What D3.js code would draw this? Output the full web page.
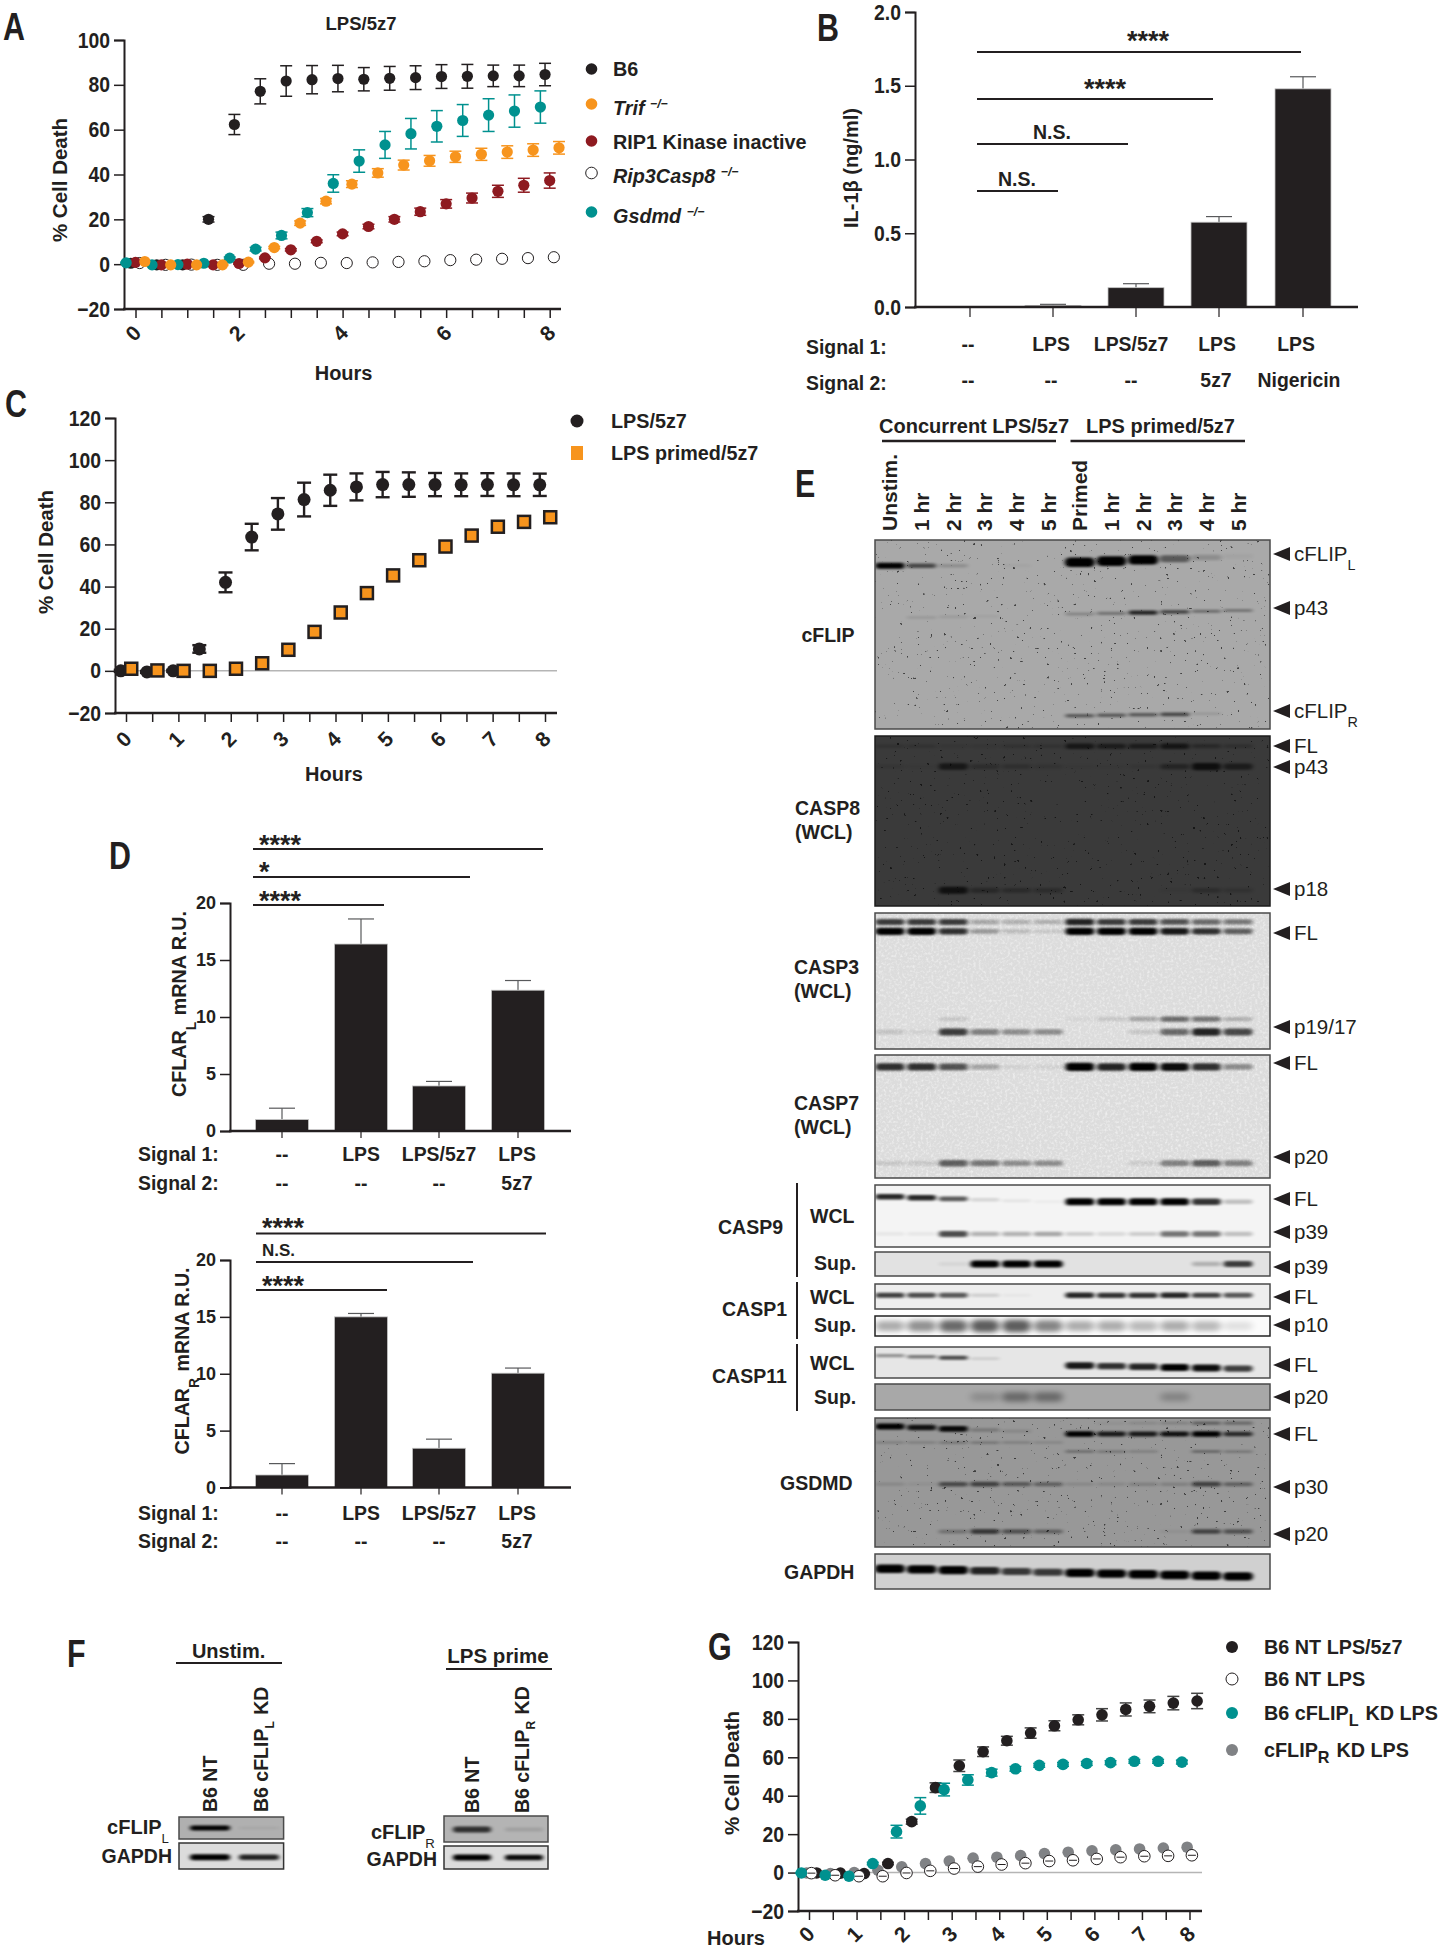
<!DOCTYPE html>
<html>
<head>
<meta charset="utf-8">
<script src="https://cdn.jsdelivr.net/npm/d3@7"></script>
<style>
body { margin: 0; background: #fff; }
svg text { font-family: "Liberation Sans", Arial, sans-serif; fill: #231f20; }
</style>
</head>
<body>
<div id="fig"></div>
<script>
// panel A, % cell death at half hour steps
let hours = [0, .5, 1, 1.5, 2, 2.5, 3, 3.5, 4, 4.5, 5, 5.5, 6, 6.5, 7, 7.5, 8];
let aB6 = [.4, -.3, -.3, 20, 62.3, 77.1, 81.7, 82.3, 82.8, 82.5, 82.9, 83.2, 83.7, 83.8, 84, 84, 84.6];
let aB6Err = [.5, .5, .5, 1.2, 4.5, 5.6, 6.8, 6.3, 5.9, 5.2, 5.3, 5.3, 5.3, 5.3, 4.8, 4.8, 5];
let aTrif = [1.2, -.3, -.3, -.3, .9, 7.4, 18.3, 28.1, 35.7, 40.7, 44.2, 46.1, 47.9, 49, 50, 50.9, 51.9];
let aTrifErr = [.3, .3, .3, .3, .3, .5, 1, 1.2, 1.5, 1.9, 2.2, 2.4, 2.5, 2.7, 2.8, 2.8, 2.8];
let aRip1 = [.8, -.3, 0, -.3, .3, 2.8, 6.4, 10.2, 13.5, 16.8, 20, 23.4, 26.9, 29.5, 32.5, 35.2, 37.3];
let aRip1Err = [.3, .3, .3, .3, .3, .4, .5, .6, .8, 1, 1.2, 1.6, 1.9, 2.2, 2.7, 3.1, 3.4];
let aRip3 = [.5, -.3, -.2, -.3, -.3, .2, .2, .6, .5, .8, 1, 1.3, 1.8, 2, 2.4, 2.7, 3.1];
let aGsdmd = [.6, -.3, -.2, .4, 2.7, 6.7, 12.8, 23, 36, 46, 53.2, 58.2, 61.5, 64.1, 66.5, 68.3, 70.1];
let aGsdmdErr = [.3, .3, .3, .4, .5, .8, 1.5, 1.8, 3.9, 5, 6, 6.8, 7, 7.1, 7.3, 7.2, 7.2];

// panel B
let bValues = [0, .011, .131, .575, 1.479];
let bErrors = [0, .007, .027, .038, .082];
let bSignal1 = ["--", "LPS", "LPS/5z7", "LPS", "LPS"];
let bSignal2 = ["--", "--", "--", "5z7", "Nigericin"];

// panel C
let cLps = [0, -.5, 0, 10.4, 42, 63.5, 74.5, 81.3, 85.7, 87.3, 88.4, 88.4, 88.4, 88.3, 88.4, 88.3, 88.3];
let cLpsErr = [.5, .5, .5, 1.8, 4.7, 6.3, 7.5, 8, 7.4, 6.4, 6, 5.8, 5.5, 5.4, 5.4, 5.4, 5.3];
let cPrimed = [1, .2, 0, 0, 1, 3.6, 10, 18.5, 27.7, 36.9, 45.3, 52.5, 59, 64.2, 68.4, 70.7, 72.9];

// panel D
let dSignal1 = ["--", "LPS", "LPS/5z7", "LPS"];
let dSignal2 = ["--", "--", "--", "5z7"];
let dLong = [1, 16.4, 3.95, 12.35];
let dLongErr = [1, 2.2, .4, .85];
let dShort = [1.1, 15, 3.45, 10.05];
let dShortErr = [1, .3, .8, .45];

// panel E, band strength per lane
let laneNames = ["Unstim.", "1 hr", "2 hr", "3 hr", "4 hr", "5 hr", "Primed", "1 hr", "2 hr", "3 hr", "4 hr", "5 hr"];
let flipLongA = [.95, .55, .15, 0, .03, 0];
let flipLongB = [1, 1, .95, .45, .15, .03];
let flipP43 = [0, .1, .08, .04, 0, 0, .2, .3, .75, .55, .35, .3];
let flipShort = [.45, .45, .45, .55, .1, 0];
let c8Full = [.2, .2, .1, .1, .2, .2, .8, .7, .7, .85, .4, .25];
let c8P43 = [.1, .05, .8, .3, .25, .15, .05, .05, .1, .5, 1, .7];
let c8P18 = [0, 0, .95, .4, .35, .3, 0, 0, 0, .05, .3, .2];
let c3Upper = [.7, .7, .7, .25, .2, .2, .8, .7, .7, .6, .5, .45];
let c3Lower = [1, 1, .75, .3, .15, .1, 1, 1, 1, .85, .75, .55];
let c3P19 = [0, 0, .1, 0, 0, 0, .03, .1, .25, .5, .45, .2];
let c3P17 = [.12, .05, .7, .4, .35, .35, 0, 0, .1, .5, .8, .65];
let c7Full = [.75, .75, .6, .25, .05, .05, .95, .8, .95, .9, .75, .35];
let c7P20 = [.1, .1, .55, .45, .35, .35, 0, 0, .08, .4, .55, .4];
let c9FullA = [.8, .8, .6, .12, .06, .03];
let c9FullB = [1, 1, 1, 1, .75, .2];
let c9P39 = [.05, .05, .65, .25, .25, .3, .15, .1, .15, .5, .5, .2];
let c9Sup = [0, 0, .05, 1, 1, 1, 0, 0, 0, 0, .2, .7];
let c1Full = [.7, .65, .6, .12, .03, 0, .8, .75, .75, .8, .7, .6];
let c1Sup = [.3, .4, .55, .6, .6, .45, .3, .3, .25, .3, .25, .1];
let c11FullA = [.35, .45, .65, .1, 0, 0];
let c11FullB = [.85, .75, .8, .95, .9, .7];
let c11Sup = [0, 0, 0, .15, .35, .35, 0, 0, 0, .2, 0, 0];
let gdFullA = [1, .85, .9, .2, .1, 0];
let gdFullB = [.95, .8, .8, .85, .95, .7];
let gdTop = [0, .05, .1, .15, .35, .3];
let gdMidA = [.2, .2, .25, .25, .2, .15];
let gdMidB = [.3, .25, .2, 0, .35, .25];
let gdP30 = [.1, .05, .5, .55, .4, .35, .1, .1, .15, .15, .55, .35];
let gdP20 = [0, 0, .25, .6, .45, .35, 0, 0, 0, .05, .55, .45];
let gapdhE = [1, 1, 1, .8, .7, .7, 1, 1, 1, 1, 1, 1];

// panel F
let fFlipL = [1, .05];
let fGapdhL = [1, .8];
let fFlipR = [.7, .1];
let fGapdhR = [.95, .9];

// panel G
let gNtLps5z7 = [-.2, -.3, -.5, 4.7, 26.5, 44.2, 55.6, 62.9, 68.6, 72.6, 76.4, 79.5, 82.1, 84.9, 86.5, 88.2, 89.3];
let gNtLps5z7Err = [.5, .5, .5, .6, 1.3, 2.5, 3, 2.5, 2.3, 2.7, 2.6, 2.6, 3.2, 3.4, 3.3, 3.5, 4];
let gNtLps = [-.3, -1.4, -1.9, -1.9, -.2, .9, 2.1, 3.1, 4.2, 4.9, 6, 6.4, 7.1, 8, 8.5, 8.7, 9];
let gNtLpsErr = [.7, .7, .7, .9, .7, .6, .6, .6, .6, .6, .7, .7, .7, .7, .7, .7, .7];
let gFlipL = [-.2, -1.4, -1.9, 4.7, 21.3, 34.7, 43.2, 48.2, 52, 54, 55.8, 56.3, 56.8, 57.2, 57.9, 57.9, 57.5];
let gFlipLErr = [.3, .3, .3, .6, 3.3, 4.3, 3.3, 2.7, 1.8, 1.2, 1, 1, 1, 1, 1, 1, 1];
let gFlipR = [-.2, -.5, 0, 1.2, 3, 4.7, 6, 7.5, 8, 8.8, 9.9, 10.6, 11.3, 11.8, 12.3, 12.8, 13.2];

const INK = "#231f20", ORANGE = "#f7941d", RED = "#8e1a20", TEAL = "#00918f", GREY = "#808285";

let svg = d3.select("#fig").append("svg").attr("width", 1441).attr("height", 1950);

let defs = svg.append("defs");
defs.append("filter").attr("id", "soft").attr("x", "-30%").attr("y", "-150%").attr("width", "160%").attr("height", "400%")
	.append("feGaussianBlur").attr("stdDeviation", "2 1.2");
defs.append("filter").attr("id", "smear").attr("x", "-30%").attr("y", "-100%").attr("width", "160%").attr("height", "300%")
	.append("feGaussianBlur").attr("stdDeviation", "3.5 2.5");
let grain = defs.append("filter").attr("id", "grain").attr("x", 0).attr("y", 0).attr("width", "100%").attr("height", "100%");
grain.append("feTurbulence").attr("type", "fractalNoise").attr("baseFrequency", ".38").attr("numOctaves", 2).attr("seed", 4);
grain.append("feColorMatrix").attr("values", "0 0 0 0 1  0 0 0 0 1  0 0 0 0 1  2.2 0 0 0 -1");
let specks = defs.append("filter").attr("id", "specks").attr("x", 0).attr("y", 0).attr("width", "100%").attr("height", "100%");
specks.append("feTurbulence").attr("type", "fractalNoise").attr("baseFrequency", ".3").attr("numOctaves", 2).attr("seed", 11);
specks.append("feColorMatrix").attr("values", "0 0 0 0 0  0 0 0 0 0  0 0 0 0 0  20 0 0 0 -15");

// text helper, y is the vertical centre of the capitals
function txt(g, x, y, parts, o) {
	o = o || {};
	let size = o.size || 19.5;
	let t = g.append("text")
		.attr("font-size", size)
		.attr("font-weight", o.normal ? 400 : 700)
		.attr("font-style", o.italic ? "italic" : null)
		.attr("text-anchor", o.anchor || "start");
	if (o.len) t.attr("textLength", o.len).attr("lengthAdjust", "spacingAndGlyphs");
	let off = size * .36;
	if (o.rotate) {
		t.attr("transform", "translate(" + (x + off) + "," + y + ") rotate(" + o.rotate + ")");
	} else if (o.squeeze) {
		t.attr("transform", "translate(" + x + "," + (y + off) + ") scale(" + o.squeeze + ",1)");
	} else {
		t.attr("x", x).attr("y", y + off);
	}
	let small = size * (o.subScale || .62);
	[].concat(parts).forEach(function(p) {
		if (typeof p === "string") {
			t.append("tspan").text(p);
		} else {
			// p = {sub: "L"} or {sup: "-/-"}
			let low = p.sub !== undefined;
			let shift = (low ? (o.subDrop || .3) : -.35) * size;
			t.append("tspan").attr("dy", shift).attr("font-size", small).attr("font-weight", p.normal ? 400 : null).text(low ? p.sub : p.sup);
			t.append("tspan").attr("dy", -shift).attr("font-size", small).text("\u200a");
		}
	});
	return t;
}

function stars(g, x, y, s, anchor) {
	g.append("text").attr("x", x).attr("y", y + 15).attr("font-size", 27).attr("font-weight", 700)
		.attr("text-anchor", anchor || "middle").text(s);
}

function panelLetter(x, y, s) {
	txt(svg, x, y, s, { size: 38, squeeze: .8 });
}

function hline(g, x0, x1, y, w) {
	g.append("line").attr("x1", x0).attr("x2", x1).attr("y1", y).attr("y2", y).attr("stroke", INK).attr("stroke-width", w || 2);
}

// tall, slightly narrow numbers in the GraphPad panels, plain ones in D
function yAxis(g, scale, ticks, xPos, fmt, size, squeeze) {
	let ax = g.append("g").attr("transform", "translate(" + xPos + ",0)")
		.call(d3.axisLeft(scale).tickValues(ticks).tickSize(10).tickPadding(4).tickFormat(fmt));
	ax.select(".domain").attr("stroke", INK).attr("stroke-width", 2);
	ax.selectAll(".tick line").attr("stroke", INK).attr("stroke-width", 1.5);
	ax.selectAll("text").attr("font-size", size).attr("font-weight", 700).style("font-family", "Liberation Sans").attr("fill", INK);
	if (squeeze) {
		ax.selectAll("text").attr("x", -14 / squeeze).attr("transform", "scale(" + squeeze + ",1)");
	}
	return ax;
}

function fmtMinus(d) { return d < 0 ? "\u2212" + Math.abs(d) : "" + d; }

// time course panels
function timeCourse(c) {
	let g = svg.append("g");
	let y = d3.scaleLinear().domain(c.yDomain).range(c.yRange);
	let x = d3.scaleLinear().domain([0, 8]).range(c.xRange);

	if (c.zeroLine) {
		g.append("line").attr("x1", c.axisX).attr("x2", c.axisEnd).attr("y1", y(0)).attr("y2", y(0))
			.attr("stroke", "#b5b5b5").attr("stroke-width", 1.5);
	}
	yAxis(g, y, c.yTicks, c.axisX, fmtMinus, 22, .88);

	let ax = g.append("g").attr("transform", "translate(0," + y(c.yDomain[0]) + ")")
		.call(d3.axisBottom(x).tickValues(hours).tickSize(9).tickPadding(0)
			.tickFormat(function(d) { return d % c.labelEvery === 0 ? d : ""; }));
	ax.select(".domain").remove();
	ax.selectAll(".tick line").attr("stroke", INK).attr("stroke-width", 1.5);
	ax.selectAll("text").attr("font-size", 21).attr("font-weight", 700).style("font-family", "Liberation Sans").attr("fill", INK)
		.attr("text-anchor", "middle").attr("y", 0).attr("dy", ".36em")
		.attr("transform", "translate(-3," + c.labelDrop + ") rotate(-45)");
	hline(g, c.axisX - 1, c.axisEnd, y(c.yDomain[0]), 2.5);

	c.series.forEach(function(s) {
		let pts = hours.map(function(h, i) { return { h: h + s.dodge, v: s.values[i], e: s.errors ? s.errors[i] : 0 }; });
		let col = s.errorColor || s.fill;
		let bars = g.append("g").attr("stroke", col).attr("stroke-width", c.errWidth || 1.5);
		pts.filter(function(d) { return d.e > 0; }).forEach(function(d) {
			bars.append("line").attr("x1", x(d.h)).attr("x2", x(d.h)).attr("y1", y(d.v - d.e)).attr("y2", y(d.v + d.e));
			[d.v - d.e, d.v + d.e].forEach(function(v) {
				bars.append("line").attr("x1", x(d.h) - c.cap).attr("x2", x(d.h) + c.cap).attr("y1", y(v)).attr("y2", y(v));
			});
		});
	});
	// error bars of open symbols sit on top of the fill, everything else under it
	c.series.forEach(function(s) {
		let pts = hours.map(function(h, i) { return { h: h + s.dodge, v: s.values[i], e: s.errors ? s.errors[i] : 0 }; });
		if (s.square) {
			g.append("g").selectAll("rect").data(pts).enter().append("rect")
				.attr("x", function(d) { return x(d.h) - 6; }).attr("y", function(d) { return y(d.v) - 6; })
				.attr("width", 12).attr("height", 12)
				.attr("fill", s.fill).attr("stroke", s.stroke).attr("stroke-width", 2.5);
		} else {
			g.append("g").selectAll("circle").data(pts).enter().append("circle")
				.attr("cx", function(d) { return x(d.h); }).attr("cy", function(d) { return y(d.v); })
				.attr("r", c.radius)
				.attr("fill", s.fill).attr("stroke", s.stroke || "none").attr("stroke-width", 1);
		}
		if (s.fill === "#fff" && s.errors) {
			let inner = g.append("g").attr("stroke", "#231f20").attr("stroke-width", 1);
			pts.forEach(function(d) {
				inner.append("line").attr("x1", x(d.h) - 4).attr("x2", x(d.h) + 4).attr("y1", y(d.v)).attr("y2", y(d.v));
			});
		}
	});

	c.legend.forEach(function(l, i) {
		let s = c.series.find(function(d) { return d.name === l.name; });
		if (s.square) {
			g.append("rect").attr("x", c.legendX - 6).attr("y", l.y - 7).attr("width", 12).attr("height", 14).attr("fill", s.fill);
		} else {
			g.append("circle").attr("cx", c.legendX).attr("cy", l.y).attr("r", c.legendR || c.radius)
				.attr("fill", s.fill).attr("stroke", s.stroke || "none").attr("stroke-width", 1);
		}
		txt(g, c.legendTextX, l.ty || l.y, l.parts, { italic: l.italic, size: 19.8, subScale: c.subScale, subDrop: c.subDrop });
	});
}

// bar panels with signal rows under them
function barPanel(c) {
	let g = svg.append("g");
	let y = d3.scaleLinear().domain(c.yDomain).range(c.yRange);
	let x = d3.scaleOrdinal().domain(d3.range(c.values.length)).range(c.centres);
	c.values.forEach(function(v, i) {
		if (c.errors[i] > 0) {
			let e = v + c.errors[i];
			g.append("line").attr("x1", x(i)).attr("x2", x(i)).attr("y1", y(v)).attr("y2", y(e)).attr("stroke", "#58595b").attr("stroke-width", 1.2);
			g.append("line").attr("x1", x(i) - 13).attr("x2", x(i) + 13).attr("y1", y(e)).attr("y2", y(e)).attr("stroke", "#58595b").attr("stroke-width", 1.2);
		}
		g.append("rect").attr("x", x(i) - c.barW / 2).attr("width", c.barW)
			.attr("y", y(v)).attr("height", y(0) - y(v)).attr("fill", INK).attr("stroke", "#c4c4c4").attr("stroke-width", .8);
	});
	yAxis(g, y, c.yTicks, c.axisX, c.fmt, c.tickSize, c.squeeze);
	hline(g, c.axisX - 1, c.axisEnd, y(0), 2.5);
	c.centres.forEach(function(cx) {
		g.append("line").attr("x1", cx).attr("x2", cx).attr("y1", y(0)).attr("y2", y(0) + c.tickLen).attr("stroke", INK).attr("stroke-width", 1.2);
	});
	txt(g, c.signalX, c.row1, "Signal 1:", { size: 19.4 });
	txt(g, c.signalX, c.row2, "Signal 2:", { size: 19.4 });
	c.signal1.forEach(function(s, i) { txt(g, c.label1[i], c.row1 - c.lift, s, { size: 19.4, anchor: "middle" }); });
	c.signal2.forEach(function(s, i) { txt(g, c.label2[i], c.row2 - c.lift, s, { size: 19.4, anchor: "middle" }); });
	return g;
}

// a western blot: background rectangle, grain, one blurred mark per band
function drawBlot(b) {
	let g = svg.append("g");
	let clip = "blot" + b.y0;
	defs.append("clipPath").attr("id", clip).append("rect").attr("x", b.x0).attr("y", b.y0).attr("width", b.x1 - b.x0).attr("height", b.y1 - b.y0);
	g.append("rect").attr("x", b.x0).attr("y", b.y0).attr("width", b.x1 - b.x0).attr("height", b.y1 - b.y0).attr("fill", b.bg);
	if (b.grain) {
		g.append("rect").attr("x", b.x0).attr("y", b.y0).attr("width", b.x1 - b.x0).attr("height", b.y1 - b.y0)
			.attr("filter", "url(#grain)").attr("opacity", b.grain);
	}
	if (b.specks) {
		g.append("rect").attr("x", b.x0).attr("y", b.y0).attr("width", b.x1 - b.x0).attr("height", b.y1 - b.y0)
			.attr("filter", "url(#specks)").attr("opacity", b.specks);
	}
	let y = d3.scaleLinear().domain([0, 1]).range([b.y0, b.y1]);
	let inner = g.append("g").attr("clip-path", "url(#" + clip + ")");
	b.rows.forEach(function(r) {
		let first = r.from || 0;
		let x = b.lane;
		r.v.forEach(function(v, i) {
			if (v <= 0) return;
			let h = (r.h || 5) * (.6 + .6 * v);
			let w = r.w || b.bandW || 29;
			let cy = y(r.at) + (r.tilt || 0) * i;
			inner.append("rect").attr("x", x(first + i) - w / 2).attr("y", cy - h / 2).attr("width", w).attr("height", h).attr("rx", h / 2)
				.attr("fill", "#000").attr("opacity", Math.min(1, v * (b.gain || 1.05)))
				.attr("filter", r.smear ? "url(#smear)" : "url(#soft)");
		});
	});
	g.append("rect").attr("x", b.x0).attr("y", b.y0).attr("width", b.x1 - b.x0).attr("height", b.y1 - b.y0)
		.attr("fill", "none").attr("stroke", b.border || "#4a4a4a").attr("stroke-width", 1.5);
}

function marker(x, y, parts) {
	svg.append("path").attr("d", d3.line()([[x, y - 7], [x, y + 7], [x - 17, y]]) + "Z").attr("transform", "translate(18,0)").attr("fill", INK);
	txt(svg, x + 22, y, parts, { size: 20.5, normal: true, subScale: .7, subDrop: .42 });
}

// ---- A
panelLetter(3, 26, "A");
txt(svg, 361, 23, "LPS/5z7", { size: 18.5, anchor: "middle" });
timeCourse({
	yDomain: [-20, 100], yRange: [309, 40], xRange: [135.5, 549.7], axisX: 124, axisEnd: 561,
	yTicks: [-20, 0, 20, 40, 60, 80, 100], labelEvery: 2, labelDrop: 24, radius: 5.6, cap: 6,
	series: [
		{ name: "B6", dodge: -.09, values: aB6, errors: aB6Err, fill: INK },
		{ name: "Rip3", dodge: .08, values: aRip3, fill: "#fff", stroke: INK },
		{ name: "Rip1", dodge: 0, values: aRip1, errors: aRip1Err, fill: RED },
		{ name: "Gsdmd", dodge: -.18, values: aGsdmd, errors: aGsdmdErr, fill: TEAL },
		{ name: "Trif", dodge: .18, values: aTrif, errors: aTrifErr, fill: ORANGE }
	],
	legendX: 591.5, legendTextX: 613, legendR: 5.8,
	legend: [
		{ name: "B6", y: 69, parts: "B6" },
		{ name: "Trif", y: 104, ty: 108, italic: true, parts: ["Trif ", { sup: "\u2212/\u2212" }] },
		{ name: "Rip1", y: 141, ty: 142, parts: "RIP1 Kinase inactive" },
		{ name: "Rip3", y: 173, ty: 176, italic: true, parts: ["Rip3Casp8 ", { sup: "\u2212/\u2212" }] },
		{ name: "Gsdmd", y: 212, ty: 216, italic: true, parts: ["Gsdmd ", { sup: "\u2212/\u2212" }] }
	]
});
txt(svg, 60, 180, "% Cell Death", { size: 20.5, rotate: -90, anchor: "middle" });
txt(svg, 343.6, 373, "Hours", { size: 20, anchor: "middle" });

// ---- B
panelLetter(817, 27, "B");
let bG = barPanel({
	values: bValues, errors: bErrors, yDomain: [0, 2], yRange: [307, 12], centres: [970, 1053, 1136, 1219, 1303], barW: 56,
	axisX: 915, axisEnd: 1358, yTicks: [0, .5, 1, 1.5, 2], fmt: d3.format(".1f"), tickSize: 22, squeeze: .88, tickLen: 10,
	signalX: 806, row1: 347, row2: 383, lift: 2.5, signal1: bSignal1, signal2: bSignal2,
	label1: [968, 1051, 1131, 1217, 1296], label2: [968, 1051, 1131, 1216, 1299]
});
hline(bG, 977, 1301, 52);
hline(bG, 977, 1213, 99);
hline(bG, 977, 1128, 144);
hline(bG, 977, 1058, 191);
stars(bG, 1148, 35, "****");
stars(bG, 1105, 83, "****");
txt(bG, 1052, 132, "N.S.", { size: 19.5, anchor: "middle" });
txt(bG, 1017, 179, "N.S.", { size: 19.5, anchor: "middle" });
txt(bG, 851, 168, "IL-1\u03b2 (ng/ml)", { size: 20, rotate: -90, anchor: "middle" });

// ---- C
panelLetter(5, 403, "C");
timeCourse({
	yDomain: [-20, 120], yRange: [713, 418], xRange: [126, 545], axisX: 115, axisEnd: 557, zeroLine: true,
	yTicks: [-20, 0, 20, 40, 60, 80, 100, 120], labelEvery: 1, labelDrop: 26, radius: 6.5, cap: 7, errWidth: 2.4,
	series: [
		{ name: "LPS/5z7", dodge: -.1, values: cLps, errors: cLpsErr, fill: INK },
		{ name: "LPS primed/5z7", dodge: .1, values: cPrimed, fill: ORANGE, stroke: INK, square: true }
	],
	legendX: 577, legendTextX: 611, legendR: 6.5,
	legend: [
		{ name: "LPS/5z7", y: 421, parts: "LPS/5z7" },
		{ name: "LPS primed/5z7", y: 453, parts: "LPS primed/5z7" }
	]
});
txt(svg, 46, 552, "% Cell Death", { size: 20.5, rotate: -90, anchor: "middle" });
txt(svg, 334, 774, "Hours", { size: 20, anchor: "middle" });

// ---- D
panelLetter(109, 855, "D");
let dTop = barPanel({
	values: dLong, errors: dLongErr, yDomain: [0, 20], yRange: [1131, 903], centres: [282, 361, 439, 518], barW: 53,
	axisX: 230, axisEnd: 571, yTicks: [0, 5, 10, 15, 20], fmt: d3.format("d"), tickSize: 18, tickLen: 7,
	signalX: 138, row1: 1154, row2: 1183, lift: 0, signal1: dSignal1, signal2: dSignal2,
	label1: [282, 361, 439, 517], label2: [282, 361, 439, 517]
});
hline(dTop, 253, 543, 849);
hline(dTop, 253, 470, 877);
hline(dTop, 253, 384, 905);
stars(dTop, 259, 839, "****", "start");
stars(dTop, 259, 866, "*", "start");
stars(dTop, 259, 895, "****", "start");
txt(dTop, 179, 1004, ["CFLAR", { sub: "L" }, " mRNA R.U."], { size: 20, rotate: -90, anchor: "middle", len: 186, subScale: .7, subDrop: .5 });
let dBot = barPanel({
	values: dShort, errors: dShortErr, yDomain: [0, 20], yRange: [1487.5, 1260], centres: [282, 361, 439, 518], barW: 53,
	axisX: 230, axisEnd: 571, yTicks: [0, 5, 10, 15, 20], fmt: d3.format("d"), tickSize: 18, tickLen: 7,
	signalX: 138, row1: 1513, row2: 1541, lift: 0, signal1: dSignal1, signal2: dSignal2,
	label1: [282, 361, 439, 517], label2: [282, 361, 439, 517]
});
hline(dBot, 256, 546, 1233.5);
hline(dBot, 256, 473, 1262);
hline(dBot, 256, 387, 1290);
stars(dBot, 262, 1222, "****", "start");
txt(dBot, 262, 1250, "N.S.", { size: 17 });
stars(dBot, 262, 1280, "****", "start");
txt(dBot, 182, 1361, ["CFLAR", { sub: "R" }, " mRNA R.U."], { size: 20, rotate: -90, anchor: "middle", len: 187, subScale: .7, subDrop: .5 });

// ---- E
panelLetter(795, 483, "E");
let laneX = d3.scaleLinear().domain([0, 11]).range([890, 1238]);
let gelLeft = 875, gelRight = 1270;
txt(svg, 879, 426, "Concurrent LPS/5z7", { size: 20 });
txt(svg, 1086, 426, "LPS primed/5z7", { size: 20 });
hline(svg, 882, 1056, 441, 2.5);
hline(svg, 1070.5, 1245, 441, 2.5);
laneNames.forEach(function(n, i) {
	txt(svg, laneX(i) + (i === 0 ? -1 : 0), 531, n, { size: 21, rotate: -90, anchor: "start" });
});

[
	{ y0: 540, y1: 729, bg: "#a9a9a9", specks: .6, rows: [
		{ at: .136, v: flipLongA, h: 5 }, { at: .118, from: 6, tilt: -1.2, v: flipLongB, h: 8, w: 30 },
		{ at: .414, tilt: -.7, v: flipP43, h: 4 }, { at: .93, from: 6, tilt: -.5, v: flipShort, h: 4 }
	] },
	{ y0: 736, y1: 906, bg: "#3a3a3a", border: "#1c1c1c", specks: .6, gain: .75, rows: [
		{ at: .06, v: c8Full, h: 5 }, { at: .18, v: c8P43, h: 6 }, { at: .908, v: c8P18, h: 6 }
	] },
	{ y0: 913, y1: 1049, bg: "#dcdcdc", grain: .55, rows: [
		{ at: .066, v: c3Upper, h: 6 }, { at: .135, v: c3Lower, h: 6 },
		{ at: .78, v: c3P19, h: 6 }, { at: .875, v: c3P17, h: 7 }
	] },
	{ y0: 1055, y1: 1178, bg: "#dcdcdc", grain: .6, rows: [
		{ at: .097, v: c7Full, h: 7 }, { at: .88, v: c7P20, h: 7 }
	] },
	{ y0: 1185, y1: 1247, bg: "#f4f4f4", rows: [
		{ at: .19, tilt: 1, v: c9FullA, h: 5 }, { at: .27, from: 6, v: c9FullB, h: 6 }, { at: .79, v: c9P39, h: 6 }
	] },
	{ y0: 1252, y1: 1276, bg: "#e2e2e2", rows: [{ at: .5, v: c9Sup, h: 6 }] },
	{ y0: 1284, y1: 1309, bg: "#eeeeee", rows: [{ at: .45, v: c1Full, h: 5 }] },
	{ y0: 1316, y1: 1336, bg: "#fbfbfb", border: "#222", rows: [{ at: .5, v: c1Sup, h: 13, smear: true }] },
	{ y0: 1347, y1: 1378, bg: "#e6e6e6", rows: [
		{ at: .28, tilt: 1, v: c11FullA, h: 4 }, { at: .6, from: 6, tilt: .6, v: c11FullB, h: 6 }
	] },
	{ y0: 1384, y1: 1410, bg: "#a8a8a8", rows: [{ at: .5, v: c11Sup, h: 12, smear: true }] },
	{ y0: 1418, y1: 1547, bg: "#989898", specks: .6, rows: [
		{ at: .065, tilt: 1.2, v: gdFullA, h: 5 }, { at: .124, from: 6, v: gdFullB, h: 4.5 }, { at: .04, from: 6, v: gdTop, h: 4 },
		{ at: .19, v: gdMidA, h: 3 }, { at: .26, from: 6, v: gdMidB, h: 3 },
		{ at: .513, v: gdP30, h: 5 }, { at: .88, v: gdP20, h: 5 }
	] },
	{ y0: 1554, y1: 1589, bg: "#d0d0d0", rows: [{ at: .42, tilt: .7, v: gapdhE, h: 7, w: 30 }] }
].forEach(function(b) {
	drawBlot(Object.assign({ x0: gelLeft, x1: gelRight, lane: laneX }, b));
});

[
	[554, ["cFLIP", { sub: "L", normal: true }]], [608, "p43"], [711, ["cFLIP", { sub: "R", normal: true }]],
	[746, "FL"], [767, "p43"], [889, "p18"], [933, "FL"], [1027, "p19/17"], [1063, "FL"], [1157, "p20"],
	[1199, "FL"], [1232, "p39"], [1267, "p39"], [1297, "FL"], [1325, "p10"], [1365, "FL"], [1397, "p20"],
	[1434, "FL"], [1487, "p30"], [1534, "p20"]
].forEach(function(m) { marker(1272, m[0], m[1]); });

txt(svg, 828, 635, "cFLIP", { anchor: "middle", size: 19.5 });
txt(svg, 795, 808, "CASP8", { size: 19.5 });
txt(svg, 795, 832, "(WCL)", { size: 19.5 });
txt(svg, 794, 967, "CASP3", { size: 19.5 });
txt(svg, 794, 991, "(WCL)", { size: 19.5 });
txt(svg, 794, 1103, "CASP7", { size: 19.5 });
txt(svg, 794, 1127, "(WCL)", { size: 19.5 });
txt(svg, 718, 1227, "CASP9", { size: 19.5 });
txt(svg, 722, 1309, "CASP1", { size: 19.5 });
txt(svg, 712, 1376, "CASP11", { size: 19.5 });
txt(svg, 810, 1216, "WCL", { size: 19.5 });
txt(svg, 814, 1263, "Sup.", { size: 19.5 });
txt(svg, 810, 1297, "WCL", { size: 19.5 });
txt(svg, 814, 1325, "Sup.", { size: 19.5 });
txt(svg, 810, 1363, "WCL", { size: 19.5 });
txt(svg, 814, 1397, "Sup.", { size: 19.5 });
txt(svg, 780, 1483, "GSDMD", { size: 19.5 });
txt(svg, 784, 1572, "GAPDH", { size: 19.5 });
[[1183, 1277], [1282, 1339], [1344, 1411]].forEach(function(s) {
	svg.append("line").attr("x1", 797).attr("x2", 797).attr("y1", s[0]).attr("y2", s[1]).attr("stroke", INK).attr("stroke-width", 2);
});

// ---- F
panelLetter(67, 1653, "F");
let laneLeft = d3.scaleLinear().domain([0, 1]).range([210, 259]);
let laneRight = d3.scaleLinear().domain([0, 1]).range([472, 524]);
txt(svg, 228.6, 1651, "Unstim.", { size: 20, anchor: "middle" });
hline(svg, 176, 282, 1663, 2);
txt(svg, 498, 1656, "LPS prime", { size: 20.5, anchor: "middle" });
hline(svg, 446, 552, 1669, 2);
txt(svg, 210, 1812, "B6 NT", { size: 19.5, rotate: -90 });
txt(svg, 261, 1812, ["B6 cFLIP", { sub: "L" }, " KD"], { size: 19.5, rotate: -90 });
txt(svg, 472, 1813, "B6 NT", { size: 19.5, rotate: -90 });
txt(svg, 522, 1813, ["B6 cFLIP", { sub: "R" }, " KD"], { size: 19.5, rotate: -90 });
drawBlot({ x0: 179, x1: 283.6, y0: 1817, y1: 1839, bg: "#b0b0b0", lane: laneLeft, bandW: 40, rows: [{ at: .5, v: fFlipL, h: 4 }] });
drawBlot({ x0: 179, x1: 283.6, y0: 1843, y1: 1869, bg: "#dcdcdc", lane: laneLeft, bandW: 40, border: "#333", rows: [{ at: .55, v: fGapdhL, h: 5 }] });
drawBlot({ x0: 444, x1: 548, y0: 1816, y1: 1842, bg: "#b4b4b4", lane: laneRight, bandW: 38, rows: [{ at: .52, v: fFlipR, h: 6 }] });
drawBlot({ x0: 444, x1: 548, y0: 1846, y1: 1869, bg: "#dcdcdc", lane: laneRight, bandW: 38, border: "#333", rows: [{ at: .5, v: fGapdhR, h: 5 }] });
txt(svg, 170, 1827, ["cFLIP", { sub: "L", normal: true }], { size: 20, anchor: "end", subDrop: .45, subScale: .66 });
txt(svg, 172, 1856, "GAPDH", { size: 19.5, anchor: "end" });
txt(svg, 436, 1832, ["cFLIP", { sub: "R", normal: true }], { size: 20, anchor: "end", subDrop: .45, subScale: .66 });
txt(svg, 437, 1859, "GAPDH", { size: 19.5, anchor: "end" });

// ---- G
panelLetter(708, 1646, "G");
timeCourse({
	yDomain: [-20, 120], yRange: [1911, 1642], xRange: [809, 1189.5], axisX: 798, axisEnd: 1202, zeroLine: true,
	yTicks: [-20, 0, 20, 40, 60, 80, 100, 120], labelEvery: 1, labelDrop: 23, radius: 5.8, cap: 6,
	series: [
		{ name: "flipR", dodge: -.05, values: gFlipR, fill: GREY },
		{ name: "nt5z7", dodge: .16, values: gNtLps5z7, errors: gNtLps5z7Err, fill: INK, errorColor: "#444" },
		{ name: "nt", dodge: .05, values: gNtLps, errors: gNtLpsErr, fill: "#fff", stroke: INK },
		{ name: "flipL", dodge: -.16, values: gFlipL, errors: gFlipLErr, fill: TEAL }
	],
	legendX: 1232, legendTextX: 1264, legendR: 6, subScale: .82, subDrop: .3,
	legend: [
		{ name: "nt5z7", y: 1647, parts: "B6 NT LPS/5z7" },
		{ name: "nt", y: 1679, parts: "B6 NT LPS" },
		{ name: "flipL", y: 1713, parts: ["B6 cFLIP", { sub: "L" }, " KD LPS"] },
		{ name: "flipR", y: 1750, parts: ["cFLIP", { sub: "R" }, " KD LPS"] }
	]
});
txt(svg, 732, 1773, "% Cell Death", { size: 20.5, rotate: -90, anchor: "middle" });
txt(svg, 707, 1938, "Hours", { size: 20 });
</script>
</body>
</html>
